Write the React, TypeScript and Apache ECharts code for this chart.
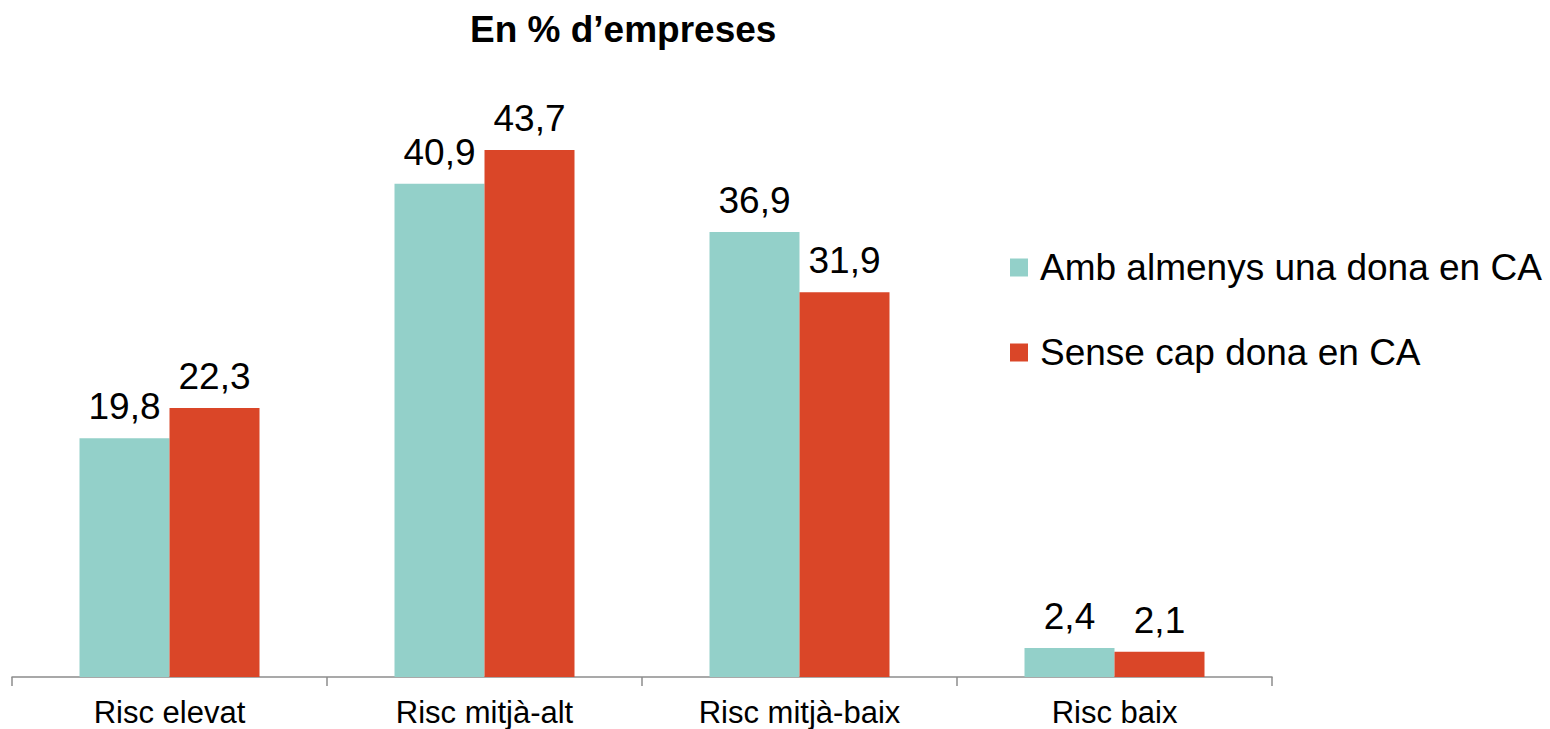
import React, { useEffect, useRef } from "react";
import * as echarts from "echarts";

const categories = ["Risc elevat", "Risc mitjà-alt", "Risc mitjà-baix", "Risc baix"];
const seriesNames = ["Amb almenys una dona en CA", "Sense cap dona en CA"];
const ambDona = [19.8, 40.9, 36.9, 2.4];
const senseDona = [22.3, 43.7, 31.9, 2.1];
const titleText = "En % d’empreses";

const TEAL = "#93D0C9";
const RED = "#DA4628";
const FONT = "Liberation Sans, Arial, sans-serif";

export default function App() {
  const ref = useRef<HTMLDivElement>(null);
  useEffect(() => {
    if (!ref.current) return;
    const chart = echarts.init(ref.current, undefined, { renderer: "svg" });
    const fmt = (p: any) => String(p.value).replace(".", ",");
    chart.setOption({
      animation: false,
      backgroundColor: "#ffffff",
      textStyle: { fontFamily: FONT },
      title: {
        text: titleText,
        left: 465,
        top: 6,
        textStyle: { fontFamily: FONT, fontSize: 37, fontWeight: "bold", color: "#000" },
      },
      legend: {
        orient: "vertical",
        left: 1005,
        top: 244,
        itemWidth: 18,
        itemHeight: 18,
        itemGap: 48,
        icon: "rect",
        textStyle: { fontFamily: FONT, fontSize: 37, color: "#000", padding: [0, 0, 0, 7] },
        data: seriesNames,
      },
      grid: { left: 12, top: 74, width: 1260, height: 603, containLabel: false },
      xAxis: {
        type: "category",
        data: categories,
        axisLine: { show: true, lineStyle: { color: "#8c8c8c", width: 1.5 } },
        axisTick: { show: true, length: 9, lineStyle: { color: "#8c8c8c", width: 1.5 } },
        axisLabel: { fontFamily: FONT, fontSize: 31, color: "#000", margin: 20 },
      },
      yAxis: {
        type: "value",
        min: 0,
        max: 50,
        show: false,
        splitLine: { show: false },
      },
      series: [
        {
          name: seriesNames[0],
          type: "bar",
          data: ambDona,
          barWidth: 90,
          barGap: "0%",
          itemStyle: { color: TEAL },
          label: { show: true, position: "top", distance: 13, formatter: fmt, fontFamily: FONT, fontSize: 37, color: "#000" },
        },
        {
          name: seriesNames[1],
          type: "bar",
          data: senseDona,
          barWidth: 90,
          barGap: "0%",
          itemStyle: { color: RED },
          label: { show: true, position: "top", distance: 13, formatter: fmt, fontFamily: FONT, fontSize: 37, color: "#000" },
        },
      ],
    });
    return () => chart.dispose();
  }, []);
  return <div ref={ref} style={{ width: 1550, height: 729, position: "absolute", left: 0, top: 0 }} />;
}
